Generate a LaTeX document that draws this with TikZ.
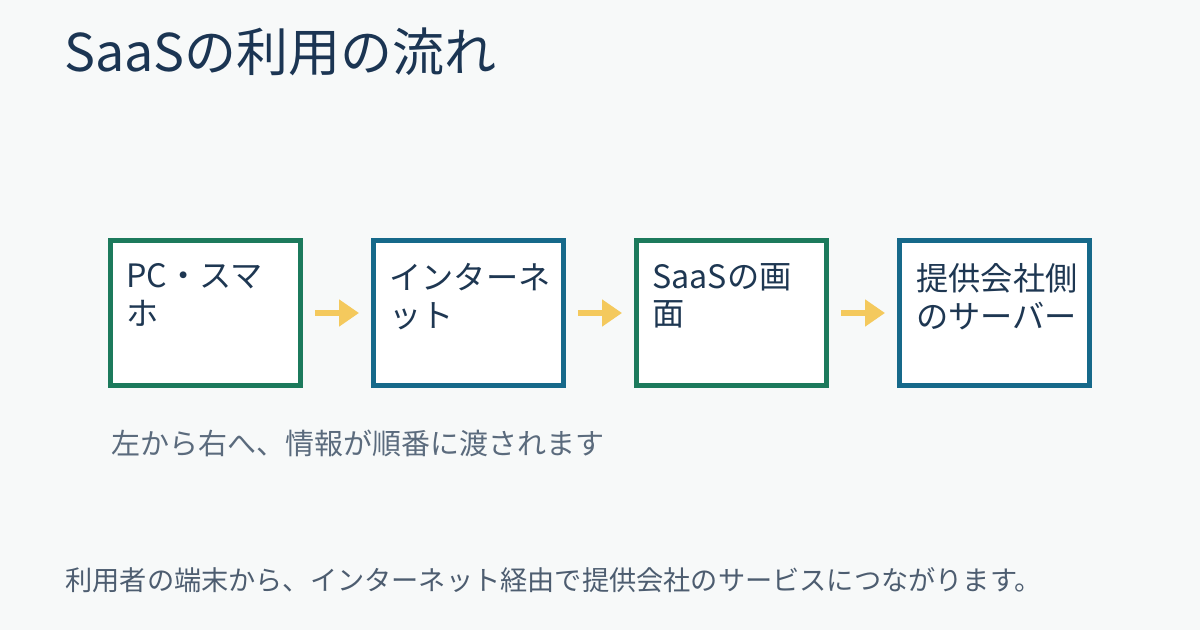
\documentclass[tikz,border=0pt]{standalone}
\usepackage{fontspec}
\setmainfont{Noto Sans CJK JP}
\usepackage{tikz}
\usetikzlibrary{arrows.meta,positioning,calc}
\definecolor{pagebg}{HTML}{F7F9F9}
\definecolor{titleink}{HTML}{1B3553}
\definecolor{boxink}{HTML}{1E3752}
\definecolor{noteink}{HTML}{5B6B7D}
\definecolor{footink}{HTML}{4D5D70}
\definecolor{stepgreen}{HTML}{1C7A5C}
\definecolor{stepblue}{HTML}{16698A}
\definecolor{arrowgold}{HTML}{F4C95D}
\tikzset{
  greenbox/.style={draw=stepgreen, line width=2.3pt, fill=white, minimum width=95.2pt, minimum height=72.7pt, inner sep=0pt},
  bluebox/.style={draw=stepblue, line width=2.3pt, fill=white, minimum width=95.2pt, minimum height=72.7pt, inner sep=0pt},
  boxtext/.style={anchor=north west, align=left, inner sep=0pt, text=boxink, font=\fontsize{16.1}{18.8}\selectfont},
  flowarrow/.style={-{Triangle[length=10pt,width=13pt]}, line width=3pt, draw=arrowgold, shorten <=6pt, shorten >=6pt},
  titletext/.style={anchor=base west, inner sep=0pt, text=titleink, font=\fontsize{26}{30}\selectfont},
  notetext/.style={anchor=base west, inner sep=0pt, text=noteink, font=\fontsize{14.5}{17}\selectfont},
  foottext/.style={anchor=base west, inner sep=0pt, text=footink, font=\fontsize{13.6}{16}\selectfont}
}
\begin{document}
\begin{tikzpicture}[x=0.5pt,y=-0.5pt]
  \fill[pagebg] (0,0) rectangle (1200,630);
  \node[titletext] (title) at (64,72) {SaaSの利用の流れ};
  \node[greenbox] (pc) at (205.5,313) {};
  \node[bluebox] (net) at (468.5,313) {};
  \node[greenbox] (saas) at (731.5,313) {};
  \node[bluebox] (srv) at (994.5,313) {};
  \node[boxtext] (pct) at (126,263) {PC・スマ\\ホ};
  \node[boxtext] (nett) at (389,263) {インターネ\\ット};
  \node[boxtext] (saast) at (652,263) {SaaSの画\\面};
  \node[boxtext] (srvt) at (916,263) {提供会社側\\のサーバー};
  \draw[flowarrow] (pc) -- (net);
  \draw[flowarrow] (net) -- (saas);
  \draw[flowarrow] (saas) -- (srv);
  \node[notetext] (note) at (111,455) {左から右へ、情報が順番に渡されます};
  \node[foottext] (foot) at (65,590) {利用者の端末から、インターネット経由で提供会社のサービスにつながります。};
\end{tikzpicture}
\end{document}
